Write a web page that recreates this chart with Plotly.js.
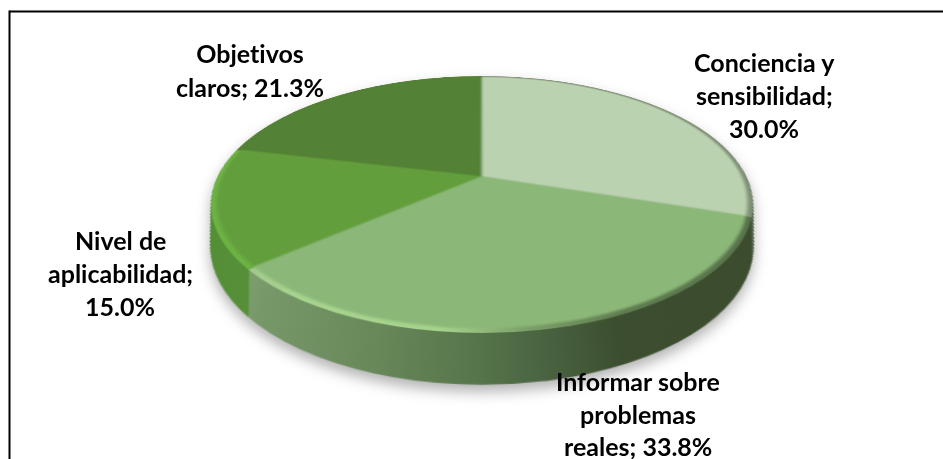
<!DOCTYPE html>
<html><head><meta charset="utf-8">
<script src="https://cdn.plot.ly/plotly-3.0.1.min.js"></script>
<style>
html,body{margin:0;padding:0;background:#fff;overflow:hidden}
#stage{position:relative;width:943px;height:459px;overflow:hidden}
#shadow{position:absolute;left:0;top:0;width:943px;height:459px;filter:drop-shadow(0px 7px 7px rgba(0,0,0,.3))}
#pie{position:absolute;left:0;top:0;transform-origin:0 0}
#front{position:absolute;left:0;top:0}
#front .annotation text{font-variant-ligatures:none;font-feature-settings:"liga" 0;-webkit-text-stroke:.3px #000}
</style></head><body>
<div id="stage"><div id="shadow"><div id="pie"></div></div><div id="front"></div></div>
<script>
// Data
var categories = ['Conciencia y sensibilidad', 'Informar sobre problemas reales', 'Nivel de aplicabilidad', 'Objetivos claros'];
var values = [30.0, 33.8, 15.0, 21.3];
var labelLines = [['Conciencia y', 'sensibilidad;', '30.0%'], ['Informar sobre', 'problemas', 'reales; 33.8%'], ['Nivel de', 'aplicabilidad;', '15.0%'], ['Objetivos', 'claros; 21.3%']];
var labelX = [764, 638, 120, 250];
var labelY = [[62, 95, 128], [381, 414, 446], [240, 273, 306], [53, 87]];
var topColors = ['#bbd2b0', '#8bb878', '#639e3e', '#538135'];
var wallColors = ['#5c6a52', '#5a7a4c', '#558f38', '#46702c'];
var rimColors = ['#7f8f76', '#8bb878', '#6cb344', '#538135'];

// Projection of the pie plane (tilted disc seen in perspective)
var R = 200, W = 440, H = 520, C0x = 220, C0y = 210;
var k = 0.214, a = 264.7, b = 122.6, cx = 482, cy = 177;
var w0 = 1 + C0y * k / R, wy = -k / R;
var matrix = [a / R, 0, 0, 0,
  cx * wy, b / R + cy * wy, 0, wy,
  0, 0, 1, 0,
  cx * w0 - C0x * a / R, cy * w0 - C0y * b / R, 0, w0];
document.getElementById('pie').style.transform = 'matrix3d(' + matrix.join(',') + ')';

function layer(s, dv, colors) {
  var py = C0y + dv * R;
  return {
    type: 'pie', labels: categories, values: values, sort: false, direction: 'clockwise', rotation: 0,
    textinfo: 'none', hoverinfo: 'skip', showlegend: false,
    marker: {colors: colors, line: {width: 0}},
    domain: {x: [(C0x - s * R) / W, (C0x + s * R) / W], y: [1 - (py + s * R) / H, 1 - (py - s * R) / H]}
  };
}
var WALL_LAYERS = 30, traces = [];
for (var i = WALL_LAYERS; i >= 1; i--) {
  var t = i / WALL_LAYERS;
  traces.push(layer(1 - 0.064 * t, 0.308 * t, wallColors));
}
traces.push(layer(1, 0, rimColors));
traces.push(layer(0.982, -0.006, topColors));

var wallStops = [[0, '#85a873'], [.065, '#85a873'], [.16, '#77996a'], [.345, '#68885a'], [.5, '#55744a'], [.59, '#496341'], [.7, '#3c4e2f'], [1, '#3c4c2e']];
var rimStops = [[0, '#9fc38c'], [.065, '#9fc38c'], [.21, '#a8d48f'], [.44, '#a5d28b'], [.57, '#7a9e68'], [.72, '#5f7d50'], [1, '#55704a']];

function gradient(defs, id, stops) {
  var ns = 'http://www.w3.org/2000/svg';
  var g = document.createElementNS(ns, 'linearGradient');
  g.setAttribute('id', id); g.setAttribute('gradientUnits', 'userSpaceOnUse');
  g.setAttribute('x1', C0x - R); g.setAttribute('x2', C0x + R); g.setAttribute('y1', 0); g.setAttribute('y2', 0);
  stops.forEach(function (st) {
    var e = document.createElementNS(ns, 'stop');
    e.setAttribute('offset', st[0]); e.setAttribute('stop-color', st[1]); g.appendChild(e);
  });
  defs.appendChild(g);
}

Plotly.newPlot('pie', traces, {
  width: W, height: H, margin: {l: 0, r: 0, t: 0, b: 0},
  paper_bgcolor: 'rgba(0,0,0,0)', plot_bgcolor: 'rgba(0,0,0,0)', showlegend: false
}, {displayModeBar: false, staticPlot: true}).then(function () {
  var svg = document.querySelector('#pie svg.main-svg');
  var ns = 'http://www.w3.org/2000/svg';
  var defs = document.createElementNS(ns, 'defs');
  svg.insertBefore(defs, svg.firstChild);
  gradient(defs, 'wallGrad', wallStops);
  gradient(defs, 'rimGrad', rimStops);
  var blur = document.createElementNS(ns, 'filter');
  blur.setAttribute('id', 'soft'); blur.setAttribute('x', '-5%'); blur.setAttribute('y', '-5%');
  blur.setAttribute('width', '110%'); blur.setAttribute('height', '110%');
  var fe = document.createElementNS(ns, 'feGaussianBlur'); fe.setAttribute('stdDeviation', '1.2');
  blur.appendChild(fe); defs.appendChild(blur);
  var tr = document.querySelectorAll('#pie .pielayer .trace');
  for (var i = 0; i < tr.length; i++) {
    var slices = tr[i].querySelectorAll('.slice path.surface');
    if (i < WALL_LAYERS && slices[1]) slices[1].style.fill = 'url(#wallGrad)';
    if (i === WALL_LAYERS && slices[1]) slices[1].style.fill = 'url(#rimGrad)';
    if (i === tr.length - 1) tr[i].setAttribute('filter', 'url(#soft)');
  }
});

// Labels and frame
var annotations = [];
labelLines.forEach(function (lines, c) {
  lines.forEach(function (line, j) {
    annotations.push({xref: 'x', yref: 'y', x: labelX[c], y: labelY[c][j], text: '<b>' + line + '</b>', showarrow: false,
      xanchor: 'center', yanchor: 'middle', font: {family: 'Lato, sans-serif', size: 25, color: '#000'}});
  });
});
Plotly.newPlot('front', [], {
  width: 943, height: 459, margin: {l: 0, r: 0, t: 0, b: 0},
  paper_bgcolor: 'rgba(0,0,0,0)', plot_bgcolor: 'rgba(0,0,0,0)', showlegend: false,
  xaxis: {range: [0, 943], visible: false, fixedrange: true},
  yaxis: {range: [459, 0], visible: false, fixedrange: true},
  annotations: annotations,
  shapes: [
    {type: 'line', xref: 'x', yref: 'y', x0: 9.5, x1: 943, y0: 11.5, y1: 11.5, line: {color: '#000', width: 2}},
    {type: 'line', xref: 'x', yref: 'y', x0: 9.5, x1: 9.5, y0: 10.5, y1: 459, line: {color: '#000', width: 2}}
  ]
}, {displayModeBar: false, staticPlot: true});
</script></body></html>
